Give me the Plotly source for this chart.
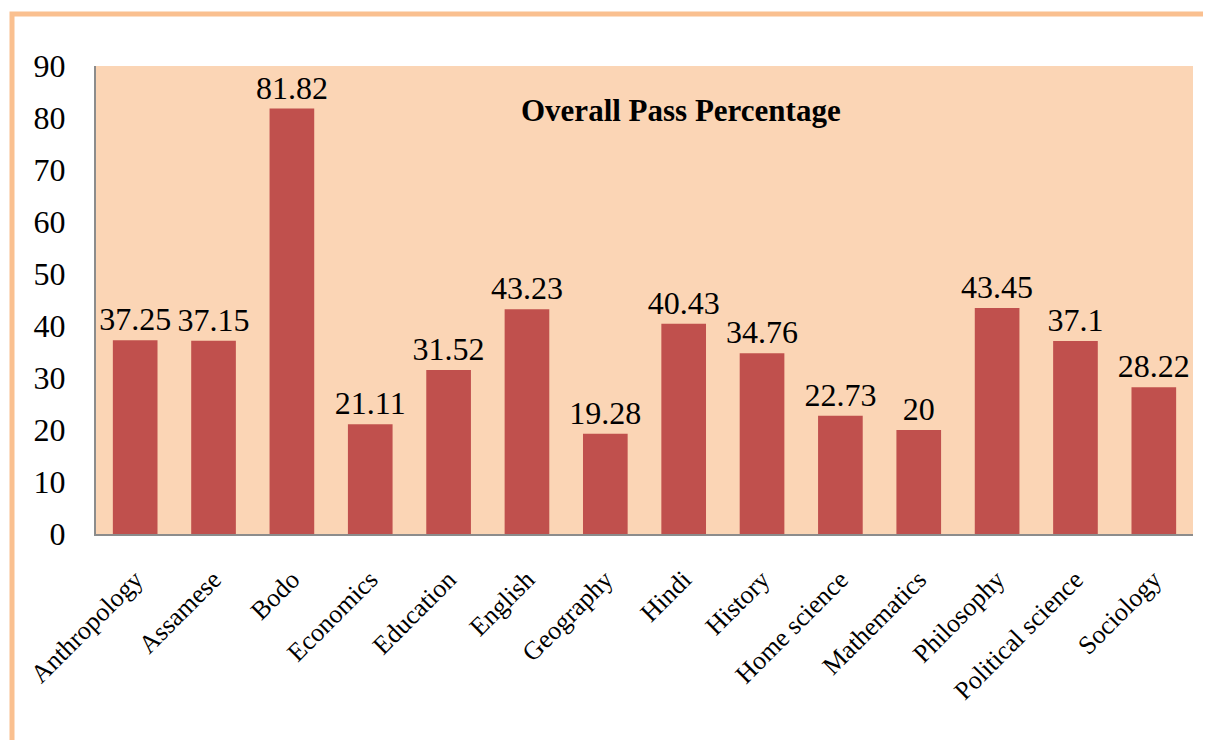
import plotly.graph_objects as go

subjects = ["Anthropology", "Assamese", "Bodo", "Economics", "Education", "English",
            "Geography", "Hindi", "History", "Home science", "Mathematics",
            "Philosophy", "Political science", "Sociology"]
pass_pct = [37.25, 37.15, 81.82, 21.11, 31.52, 43.23, 19.28, 40.43, 34.76,
            22.73, 20, 43.45, 37.1, 28.22]
y_ticks = [0, 10, 20, 30, 40, 50, 60, 70, 80, 90]

# page body has an 8px margin, so shift everything up/left by that much
OFF = 8
W, H = 1211, 740
L, T = 96 - OFF, 66 - OFF
R, B = W + OFF - 1193, H + OFF - 534
pw, ph = W - L - R, H - T - B

fig = go.Figure()
fig.add_trace(go.Bar(
    x=subjects, y=pass_pct,
    marker=dict(color="#C0504D", line=dict(width=0)),
    text=[str(v) for v in pass_pct], textposition="outside",
    constraintext="none",
    textfont=dict(family="Liberation Serif", size=32, color="black"),
    cliponaxis=False,
))

# orange frame around the figure (left + top edges)
bx = (12 - OFF - L) / pw
by = (H - B - (14 - OFF)) / ph
fig.add_shape(type="path", xref="paper", yref="paper",
              path=f"M {bx},-1 L {bx},{by} L 1.2,{by}",
              line=dict(color="#FAC090", width=5))

fig.add_annotation(text="<b>Overall Pass Percentage</b>",
                   x=(681 - 96) / 1097, y=(534 - 110) / 468,
                   xref="paper", yref="paper", xanchor="center", yanchor="middle",
                   showarrow=False,
                   font=dict(family="Liberation Serif", size=31, color="black"))

fig.update_layout(
    width=W, height=H,
    margin=dict(l=L, r=R, t=T, b=B),
    paper_bgcolor="white", plot_bgcolor="#FBD5B5",
    bargap=0.43, showlegend=False,
    font=dict(family="Liberation Serif", color="black"),
)
fig.update_xaxes(tickangle=-45, tickfont=dict(size=26), showline=True,
                 linecolor="#8C8C8C", linewidth=2,
                 ticks="outside", ticklen=18, tickcolor="rgba(0,0,0,0)")
fig.update_yaxes(range=[0, 90], tickvals=y_ticks, tickfont=dict(size=32),
                 showgrid=False, zeroline=False, showline=True,
                 linecolor="#8C8C8C", linewidth=2, ticklabelstandoff=22)

fig.write_html("out.html")
